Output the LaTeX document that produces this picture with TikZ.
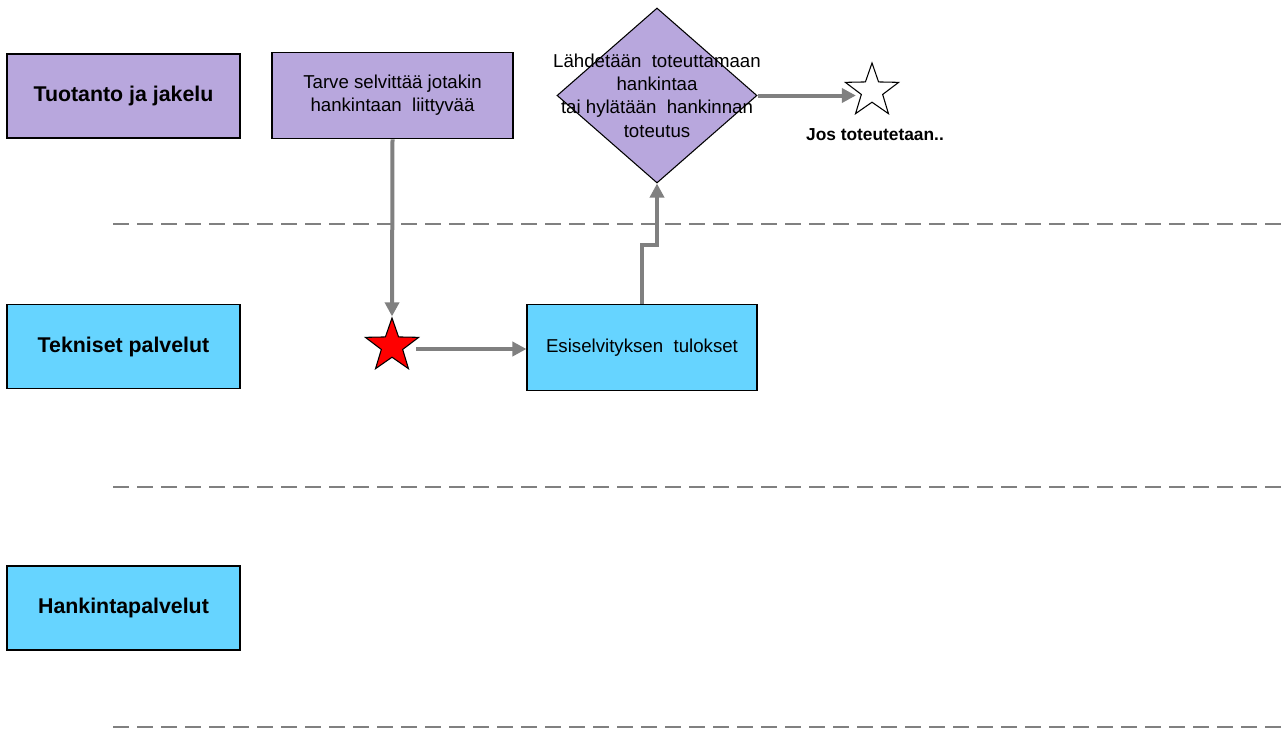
\documentclass[tikz,border=0pt]{standalone}
\usepackage{fontspec}
\setmainfont{Liberation Sans}
\usetikzlibrary{arrows.meta,positioning,shapes.geometric}
\definecolor{lila}{HTML}{B8A7DD}
\definecolor{taivas}{HTML}{66D4FF}
\begin{document}
\begin{tikzpicture}[x=0.75pt,y=-0.75pt,font=\fontsize{14}{17.5}\selectfont,
  lane/.style={draw,thick,minimum width=174.75pt,minimum height=63pt,font=\fontsize{16}{19}\selectfont\bfseries},
  b/.style={draw,thick,align=center,minimum height=65pt},
  tahti/.style={star,star points=5,star point ratio=2.5,draw,thick,minimum size=42pt,inner sep=0pt},
  viiva/.style={draw=gray,line width=1.1pt,dash pattern=on 12pt off 6pt},
  nuoli/.style={draw=gray,line width=3pt,-{Triangle[length=10.5pt,width=10.5pt]}}]
\useasboundingbox (0,0) rectangle (1288,728);
% kaistat
\node[lane,fill=lila] (tj) at (123.5,96) {Tuotanto ja jakelu};
\node[lane,fill=taivas] (tp) at (123.5,346.5) {Tekniset palvelut};
\node[lane,fill=taivas] (hp) at (123.5,608) {Hankintapalvelut};
\draw[viiva] (113,224) -- (1288,224);
\draw[viiva] (113,487) -- (1288,487);
\draw[viiva] (113,727) -- (1288,727);
% vaiheet
\node[b,fill=lila,minimum width=180.75pt] (tarve) at (392.5,95.5) {Tarve selvittää jotakin\\hankintaan\ \ liittyvää};
\node[tahti,fill=red] (alku) at (392,346) {};
\node[b,fill=taivas,minimum width=172.5pt] (esi) at (642,347.5) {Esiselvityksen\ \ tulokset};
\node[diamond,draw,thick,fill=lila,minimum width=150pt,minimum height=131.25pt,inner sep=0pt,aspect=1.14] (pää) at (657,95.5) {};
\node[align=center] (päät) at (pää.center) {Lähdetään\ \ toteuttamaan\\hankintaa\\tai hylätään\ \ hankinnan\\toteutus};
\node[tahti,fill=white] (loppu) at (872,91) {};
\node[font=\fontsize{13}{15}\selectfont\bfseries] (jos) at (875,135) {Jos toteutetaan..};
% nuolet
\draw[nuoli] (tarve.south) -- (alku.north);
\draw[nuoli] (alku.east) ++(8,3) coordinate (a1) (a1) -- (esi.west |- a1);
\draw[nuoli] (esi.north) -- ++(0,-59) -| (pää.south);
\draw[nuoli] (pää.east) -- (loppu.west |- pää.east);
\end{tikzpicture}
\end{document}
